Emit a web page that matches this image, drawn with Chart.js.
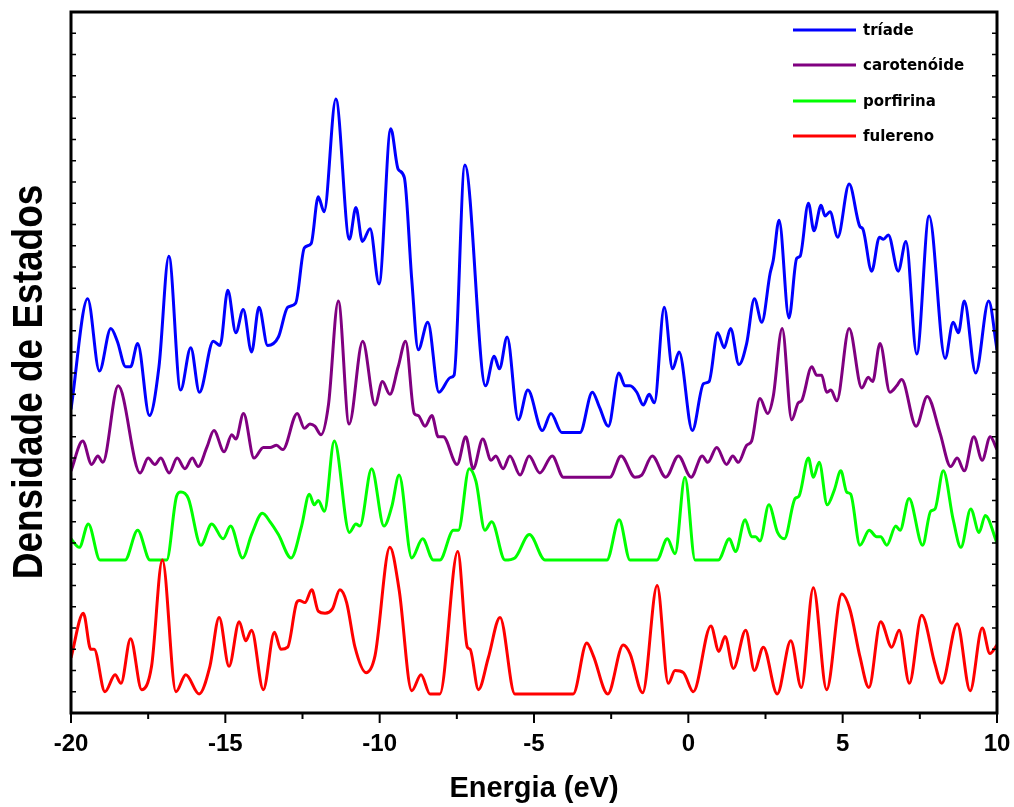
<!DOCTYPE html>
<html lang="pt">
<head>
<meta charset="UTF-8">
<title>Densidade de Estados</title>
<script src="https://cdn.jsdelivr.net/npm/chart.js"></script>
<style>
    html, body { margin: 0; padding: 0; background: #fff; }
    #wrap { width: 1014px; height: 807px; }
</style>
</head>
<body>
<div id="wrap"><canvas id="dos"></canvas></div>
<script>
// series names and colours
const names = ['tríade', 'carotenóide', 'porfirina', 'fulereno'];
const colors = ['#0000ff', '#800080', '#00ff00', '#ff0000'];
const xTicks = [-20, -15, -10, -5, 0, 5, 10];

// [energia (eV), densidade (u.a., curvas deslocadas)]
const triade = [[-20,14.3],[-19.46,19.5],[-19.08,16.1],[-18.71,18.1],[-18.50,17.5],[-18.23,16.3],[-18.07,16.3],[-17.84,17.4],[-17.46,14.0],[-17.15,16.3],
    [-16.83,21.5],[-16.45,15.2],[-16.12,17.2],[-15.84,15.1],[-15.39,17.5],[-15.17,17.3],[-14.92,19.9],[-14.66,17.9],[-14.42,19.0],[-14.15,17.0],
    [-13.91,19.1],[-13.63,17.3],[-13.28,17.7],[-12.98,19.1],[-12.72,19.3],[-12.44,21.9],[-12.22,22.1],[-11.99,24.3],[-11.80,23.6],[-11.42,28.9],
    [-10.98,22.3],[-10.77,23.8],[-10.56,22.2],[-10.31,22.8],[-10.02,20.2],[-9.64,27.5],[-9.40,25.6],[-9.20,25.2],[-8.96,20.4],[-8.75,17.1],
    [-8.44,18.4],[-8.08,15.1],[-7.70,15.8],[-7.59,15.9],[-7.24,25.8],[-6.57,15.4],[-6.29,16.8],[-6.12,16.2],[-5.87,17.7],[-5.51,13.8],
    [-5.20,15.2],[-4.73,13.3],[-4.45,14.1],[-4.10,13.2],[-3.51,13.2],[-3.11,15.1],[-2.88,14.4],[-2.59,13.5],[-2.25,16.0],[-2.05,15.4],
    [-1.89,15.4],[-1.67,15.1],[-1.46,14.5],[-1.27,15.0],[-1.10,14.6],[-0.78,19.1],[-0.51,16.2],[-0.30,17.0],[0.13,13.3],[0.49,15.5],
    [0.67,15.6],[0.95,17.9],[1.16,17.2],[1.37,18.1],[1.64,16.4],[1.89,17.4],[2.14,19.5],[2.38,18.4],[2.65,20.7],[2.75,21.3],
    [2.94,23.2],[3.26,18.6],[3.51,21.4],[3.62,21.5],[3.89,24.0],[4.07,22.7],[4.30,23.9],[4.43,23.4],[4.59,23.6],[4.84,22.4],
    [5.21,24.9],[5.56,22.9],[5.65,22.8],[5.94,20.8],[6.19,22.4],[6.32,22.3],[6.48,22.5],[6.80,20.8],[7.05,22.2],[7.40,16.9],
    [7.80,23.4],[8.32,16.7],[8.58,18.4],[8.75,17.9],[8.94,19.4],[9.31,16.0],[9.73,19.4],[10,17.1]];

const carotenoide = [[-20,11.4],[-19.62,12.8],[-19.33,11.7],[-19.13,12.1],[-18.97,11.8],[-18.47,15.4],[-17.76,11.3],[-17.50,12.0],[-17.28,11.7],[-17.09,12.0],
    [-16.82,11.3],[-16.56,12.0],[-16.31,11.5],[-16.07,12.0],[-15.88,11.6],[-15.60,12.5],[-15.37,13.3],[-15.04,12.3],[-14.79,13.1],[-14.66,12.9],
    [-14.41,14.1],[-14.07,12.0],[-13.77,12.5],[-13.55,12.5],[-13.34,12.6],[-13.14,12.4],[-12.67,14.1],[-12.44,13.4],[-12.26,13.6],[-12.10,13.5],
    [-11.90,13.1],[-11.66,14.5],[-11.34,19.4],[-10.99,13.6],[-10.55,17.5],[-10.15,14.5],[-9.91,15.6],[-9.67,15.0],[-9.40,16.3],[-9.16,17.5],
    [-8.88,14.1],[-8.75,14.0],[-8.53,13.5],[-8.31,14.0],[-8.10,13.0],[-7.94,13.0],[-7.49,11.7],[-7.21,13.0],[-6.97,11.5],[-6.66,12.9],
    [-6.39,11.9],[-6.24,12.1],[-6.00,11.5],[-5.78,12.1],[-5.45,11.2],[-5.16,12.1],[-4.81,11.3],[-4.41,12.1],[-4.05,11.1],[-2.54,11.1],
    [-2.18,12.1],[-1.73,11.1],[-1.51,11.2],[-1.17,12.1],[-0.73,11.1],[-0.32,12.1],[0.09,11.1],[0.45,12.1],[0.63,11.8],[0.92,12.5],
    [1.24,11.7],[1.44,12.1],[1.62,11.8],[1.89,12.6],[2.05,12.8],[2.32,14.8],[2.57,14.1],[2.75,14.9],[3.04,18.1],[3.35,13.8],
    [3.56,14.6],[3.67,14.7],[4.00,16.3],[4.16,15.9],[4.32,15.9],[4.48,15.1],[4.62,15.2],[4.81,14.7],[5.21,18.1],[5.62,15.3],
    [5.83,15.8],[5.97,15.6],[6.21,17.4],[6.53,15.1],[6.75,15.4],[6.91,15.7],[7.38,13.5],[7.74,14.9],[8.15,13.2],[8.50,11.6],
    [8.71,12.0],[8.94,11.4],[9.25,13.0],[9.52,11.9],[9.78,13.0],[10,12.4]];

const porfirina = [[-20,8.2],[-19.73,7.8],[-19.44,8.9],[-19.06,7.2],[-18.25,7.2],[-17.84,8.6],[-17.44,7.2],[-16.90,7.2],[-16.58,10.2],[-16.44,10.4],
    [-16.20,10.1],[-15.79,7.9],[-15.44,8.9],[-15.07,8.2],[-14.83,8.8],[-14.44,7.3],[-14.15,8.4],[-13.80,9.4],[-13.55,9.0],[-13.28,8.4],
    [-12.87,7.3],[-12.53,8.8],[-12.28,10.3],[-12.12,9.8],[-11.99,10.0],[-11.79,9.5],[-11.47,12.8],[-10.98,8.5],[-10.77,8.9],[-10.64,8.8],
    [-10.26,11.5],[-9.86,8.8],[-9.61,9.7],[-9.37,11.2],[-8.96,7.3],[-8.61,8.2],[-8.26,7.2],[-8.05,7.2],[-7.61,8.6],[-7.45,8.6],
    [-7.10,11.5],[-6.88,10.9],[-6.59,8.6],[-6.37,9.0],[-5.94,7.2],[-5.62,7.3],[-5.15,8.4],[-4.64,7.2],[-2.64,7.2],[-2.24,9.1],
    [-1.89,7.2],[-1.02,7.2],[-0.68,8.2],[-0.43,7.5],[-0.11,11.1],[0.22,7.2],[0.97,7.2],[1.33,8.2],[1.53,7.6],[1.84,9.1],
    [2.05,8.3],[2.18,8.3],[2.32,8.1],[2.61,9.8],[2.89,8.5],[3.11,8.2],[3.46,10.1],[3.58,10.2],[3.89,12.0],[4.05,11.1],
    [4.24,11.8],[4.50,9.8],[4.73,10.5],[4.94,11.4],[5.13,10.4],[5.26,10.3],[5.56,7.9],[5.86,8.6],[6.10,8.3],[6.23,8.3],
    [6.43,7.9],[6.72,8.8],[6.86,8.6],[7.15,10.1],[7.59,7.9],[7.85,9.5],[7.99,9.6],[8.26,11.4],[8.58,9.1],[8.83,7.8],
    [9.15,9.6],[9.42,8.5],[9.62,9.3],[10,8.0]];

const fulereno = [[-20,2.6],[-19.60,4.7],[-19.36,3.0],[-19.25,3.0],[-18.90,1.0],[-18.57,1.8],[-18.38,1.4],[-18.07,3.5],[-17.71,1.1],[-17.39,2.2],
    [-17.04,7.2],[-16.60,1.0],[-16.28,1.8],[-15.85,0.9],[-15.50,2.2],[-15.20,4.5],[-14.88,2.2],[-14.55,4.3],[-14.34,3.4],[-14.15,3.9],
    [-13.77,1.1],[-13.41,3.8],[-13.20,3.0],[-12.98,3.1],[-12.69,5.2],[-12.60,5.3],[-12.42,5.2],[-12.20,5.8],[-11.99,4.8],[-11.77,4.7],
    [-11.53,4.9],[-11.29,5.8],[-11.07,5.2],[-10.80,3.1],[-10.44,1.9],[-10.15,2.7],[-9.67,7.8],[-9.37,5.8],[-8.96,1.05],[-8.66,1.8],
    [-8.37,0.9],[-8.05,0.9],[-7.47,7.6],[-7.16,3.1],[-7.07,3.0],[-6.80,1.1],[-6.48,2.6],[-6.10,4.5],[-5.62,0.9],[-3.73,0.9],
    [-3.29,3.3],[-3.08,2.7],[-2.61,0.9],[-2.11,3.2],[-1.89,2.8],[-1.48,0.95],[-1.01,6.0],[-0.65,1.4],[-0.43,2.0],[-0.16,1.9],
    [0.16,1.0],[0.73,4.1],[0.99,2.9],[1.19,3.6],[1.46,2.1],[1.86,3.9],[2.14,2.0],[2.43,3.1],[2.88,0.9],[3.32,3.4],
    [3.66,1.2],[4.05,5.9],[4.48,1.1],[4.97,5.6],[5.24,4.85],[5.56,2.65],[5.85,1.2],[6.23,4.3],[6.59,3.1],[6.83,3.9],
    [7.16,1.4],[7.56,4.6],[7.99,2.3],[8.21,1.4],[8.71,4.2],[9.13,1.05],[9.52,4.0],[9.77,2.8],[10,3.2]];

const series = [triade, carotenoide, porfirina, fulereno];
const drawOrder = [1, 2, 3, 0];   // fulereno painted on top

const SANS = '"Liberation Sans", Arial, sans-serif';

// frame, ticks, rotated y title and legend
const decor = {
    id: 'decor',
    afterDraw(chart) {
        const { ctx, chartArea: a, scales: { x, y } } = chart;
        ctx.save();
        ctx.strokeStyle = '#000';
        ctx.lineWidth = 3;
        ctx.strokeRect(a.left, a.top, a.right - a.left, a.bottom - a.top);

        ctx.lineWidth = 2;
        for (let v = -20; v <= 10; v += 2.5) {
            const px = x.getPixelForValue(v);
            const len = v % 5 === 0 ? 10 : 6;
            ctx.beginPath();
            ctx.moveTo(px, a.bottom);
            ctx.lineTo(px, a.bottom + len);
            ctx.stroke();
        }
        ctx.lineWidth = 1.5;
        for (let v = 1; v < 33; v++) {
            const py = y.getPixelForValue(v);
            ctx.beginPath();
            ctx.moveTo(a.left, py); ctx.lineTo(a.left + 5, py);
            ctx.moveTo(a.right, py); ctx.lineTo(a.right - 5, py);
            ctx.stroke();
        }

        // y title, squeezed along its length like the original
        ctx.fillStyle = '#000';
        ctx.font = 'bold 43px ' + SANS;
        ctx.textAlign = 'center';
        ctx.textBaseline = 'middle';
        ctx.translate(30, 382);
        ctx.rotate(-Math.PI / 2);
        ctx.scale(0.86, 1);
        ctx.fillText('Densidade de Estados', 0, 0);
        ctx.setTransform(1, 0, 0, 1, 0, 0);

        // legend
        const legY = [30, 65, 101, 136];
        ctx.font = 'bold 15px "DejaVu Sans", sans-serif';
        ctx.textAlign = 'left';
        ctx.lineWidth = 3;
        names.forEach((n, i) => {
            ctx.strokeStyle = colors[i];
            ctx.beginPath();
            ctx.moveTo(793, legY[i]);
            ctx.lineTo(856, legY[i]);
            ctx.stroke();
            ctx.fillText(n, 863, legY[i] + 1);
        });
        ctx.restore();
    }
};

new Chart(document.getElementById('dos'), {
    type: 'line',
    data: {
        datasets: series.map((s, i) => ({
            label: names[i],
            data: s.map(p => ({ x: p[0], y: p[1] })),
            borderColor: colors[i],
            borderWidth: 3,
            pointRadius: 0,
            fill: false,
            cubicInterpolationMode: 'monotone',
            order: drawOrder[i]
        }))
    },
    options: {
        responsive: true,
        maintainAspectRatio: false,
        animation: false,
        layout: { padding: { top: 12, right: 17, left: 0, bottom: 0 } },
        plugins: { legend: { display: false }, tooltip: { enabled: false } },
        scales: {
            x: {
                type: 'linear',
                min: -20,
                max: 10,
                afterBuildTicks: s => { s.ticks = xTicks.map(v => ({ value: v })); },
                afterFit: s => {
                    s.height = 94;
                    s.paddingLeft = 0;
                    s.paddingRight = 0;
                },
                grid: { display: false, drawTicks: false },
                border: { display: false },
                ticks: {
                    color: '#000',
                    padding: 17,
                    maxRotation: 0,
                    font: { family: SANS, size: 24, weight: 'bold' }
                },
                title: {
                    display: true,
                    text: 'Energia (eV)',
                    color: '#000',
                    padding: { top: 0, bottom: 1 },
                    font: { family: SANS, size: 29, weight: 'bold' }
                }
            },
            y: {
                min: 0,
                max: 33,
                afterFit: s => { s.width = 71; },
                grid: { display: false, drawTicks: false },
                border: { display: false },
                ticks: { display: false }
            }
        }
    },
    plugins: [decor]
});
</script>
</body>
</html>
